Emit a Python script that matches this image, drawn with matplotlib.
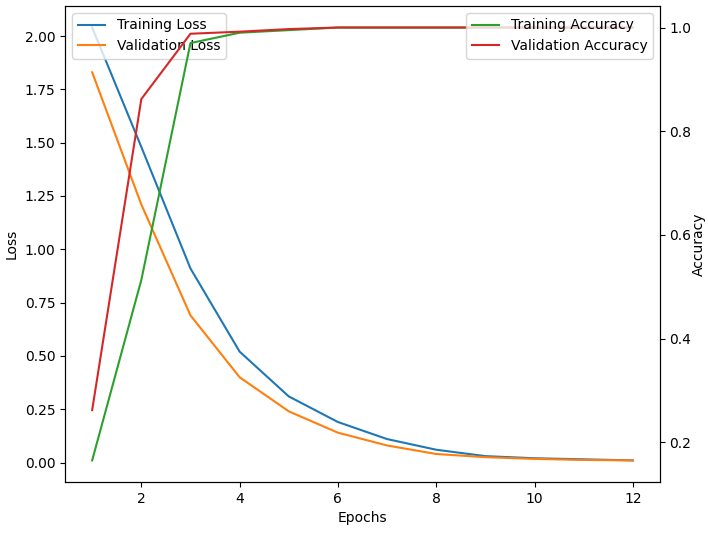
import numpy as np
import matplotlib.pyplot as plt

epochs = list(range(1, 13))
train_loss = [2.04, 1.48, 0.91, 0.52, 0.31, 0.19, 0.11, 0.06, 0.03, 0.02, 0.015, 0.01]
val_loss = [1.83, 1.21, 0.69, 0.40, 0.24, 0.14, 0.08, 0.04, 0.025, 0.017, 0.012, 0.01]
train_acc = [0.165, 0.513, 0.97, 0.99, 0.995, 1.0, 1.0, 1.0, 1.0, 1.0, 1.0, 1.0]
val_acc = [0.262, 0.862, 0.988, 0.992, 0.997, 1.0, 1.0, 1.0, 1.0, 1.0, 1.0, 1.0]

fig, ax1 = plt.subplots(figsize=(7.08, 5.35), dpi=100)
fig.subplots_adjust(left=0.092, right=0.932, top=0.989, bottom=0.099)

ax1.plot(epochs, train_loss, label='Training Loss', color='tab:blue')
ax1.plot(epochs, val_loss, label='Validation Loss', color='tab:orange')
ax1.set_xlabel('Epochs')
ax1.set_ylabel('Loss')
ax1.legend(loc='upper left')

ax2 = ax1.twinx()
ax2.plot(epochs, train_acc, label='Training Accuracy', color='tab:green')
ax2.plot(epochs, val_acc, label='Validation Accuracy', color='tab:red')
ax2.set_ylabel('Accuracy', labelpad=0)
ax2.legend(loc='upper right')

plt.savefig('out.png')
